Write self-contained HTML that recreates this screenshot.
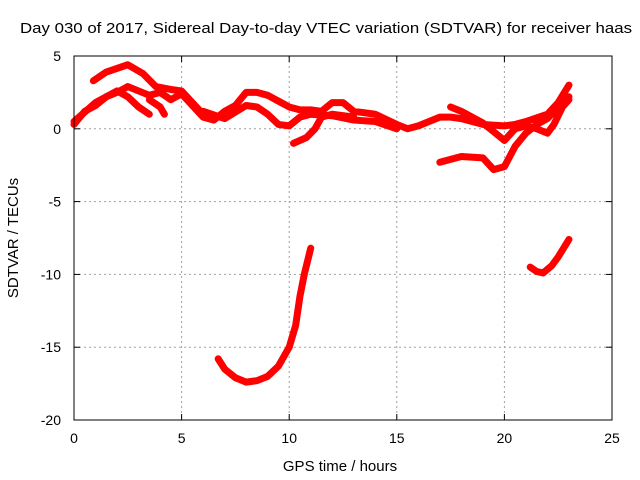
<!DOCTYPE html>
<html><head><meta charset="utf-8"><style>
body{margin:0;background:#fff}
svg{display:block;font-family:"Liberation Sans",sans-serif;font-size:14px}
</style></head><body>
<svg id="chart" width="640" height="480">
<text x="20" y="33" textLength="612" lengthAdjust="spacingAndGlyphs" font-size="15">Day 030 of 2017, Sidereal Day-to-day VTEC variation (SDTVAR) for receiver haas</text>
<text x="340" y="471" text-anchor="middle" font-size="15">GPS time / hours</text>
<text transform="translate(18,238) rotate(-90)" text-anchor="middle" font-size="15">SDTVAR / TECUs</text>
<g id="grid"></g><g id="ticks"></g><g id="series"></g>
<rect x="74" y="56" width="538" height="364" fill="none" stroke="#000" stroke-width="1"/>
</svg>
<script>
const xTicks=[0,5,10,15,20,25];
const yTicks=[5,0,-5,-10,-15,-20];
const s1=[[0.9,3.3],[1.5,3.9],[2.5,4.4],[3.2,3.8],[3.8,2.9],[4.5,2.7],[5,2.6],[5.5,1.8],[6,1.0]];
const s2=[[0,0.3],[0.5,1.2],[1,1.6],[1.5,2.2],[2,2.5],[2.5,2.9],[3,2.6],[3.5,2.3],[4,2.5],[4.5,2.0],[5,2.4],[5.5,1.6],[6,0.8],[6.5,0.6],[7,1.2],[7.5,1.6],[8,2.5],[8.5,2.5],[9,2.3],[9.5,1.9],[10,1.5],[10.5,1.3],[11,1.3],[11.5,1.2],[12,1.8],[12.5,1.8],[13,1.2],[14,1.0],[15,0.3],[15.5,0.0],[16,0.2],[16.5,0.5],[17,0.8],[17.5,0.8],[18,0.7],[19,0.3],[20,0.2],[20.5,0.3],[21,0.5],[22,1.0],[22.5,1.8],[23,3.0]];
const s3=[[0,0.5],[1,1.8],[2,2.6],[2.5,2.2],[3,1.5],[3.5,1.0]];
const s4=[[3.5,2.0],[4,1.5],[4.2,1.0]];
const s5=[[6,1.2],[7,0.7],[8,1.6],[8.5,1.5],[9,1.0],[9.5,0.3],[10,0.2],[10.5,0.8],[11,1.0],[12,0.9],[13,0.6],[14,0.5],[15,0.0]];
const s6=[[10.2,-1.0],[10.8,-0.6],[11.2,0],[11.5,0.8],[12,1.0],[13,0.8]];
const s7=[[17,-2.3],[18,-1.9],[19,-2.0],[19.5,-2.8],[20,-2.6],[20.5,-1.2],[21,-0.3],[21.5,0.3],[22,0.7],[22.5,1.5],[23,2.2]];
const s8=[[17.5,1.5],[18,1.2],[19,0.4],[19.5,-0.2],[20,-0.8],[20.5,0.0],[21,0.2],[21.5,0.0],[22,-0.3],[22.3,0.3],[22.7,1.5],[23,2.0]];
const s9=[[6.7,-15.8],[7,-16.5],[7.5,-17.1],[8,-17.4],[8.5,-17.3],[9,-17.0],[9.5,-16.3],[10,-15.0],[10.3,-13.5],[10.5,-11.5],[10.7,-10.0],[11,-8.2]];
const s10=[[21.2,-9.5],[21.5,-9.8],[21.8,-9.9],[22.2,-9.4],[22.5,-8.8],[23,-7.6]];
const allSeries=[s1,s2,s3,s4,s5,s6,s7,s8,s9,s10];
const NS="http://www.w3.org/2000/svg";
function X(h){return 74+h*(538/25);}
function Y(v){return 56+(5-v)*(364/25);}
function mk(t,a,p){const e=document.createElementNS(NS,t);for(const k in a)e.setAttribute(k,a[k]);p.appendChild(e);return e;}
const grid=document.getElementById('grid'),ticks=document.getElementById('ticks'),ser=document.getElementById('series');
xTicks.forEach(t=>{
 if(t>0&&t<25){const l=mk('line',{x1:X(t),x2:X(t),y1:56,y2:420,stroke:'#a0a0a0','stroke-dasharray':'2,3'},grid);
 
 }
 mk('line',{x1:X(t),x2:X(t),y1:420,y2:414,stroke:'#000'},ticks);
 mk('line',{x1:X(t),x2:X(t),y1:56,y2:62,stroke:'#000'},ticks);
 const tx=mk('text',{x:X(t),y:443,'text-anchor':'middle'},ticks);tx.textContent=t;
 
 
});
yTicks.forEach(t=>{
 if(t>-20&&t<5){const l=mk('line',{x1:74,x2:612,y1:Y(t),y2:Y(t),stroke:'#a0a0a0','stroke-dasharray':'2,3'},grid);
 
 }
 mk('line',{x1:74,x2:80,y1:Y(t),y2:Y(t),stroke:'#000'},ticks);
 mk('line',{x1:612,x2:606,y1:Y(t),y2:Y(t),stroke:'#000'},ticks);
 const tx=mk('text',{x:61,y:Y(t)+5,'text-anchor':'end'},ticks);tx.textContent=t;
 
 
});
allSeries.forEach((s,i)=>{
 const p=mk('polyline',{points:s.map(d=>X(d[0])+','+Y(d[1])).join(' '),fill:'none',stroke:'#ff0000','stroke-width':7,'stroke-linejoin':'round','stroke-linecap':'round'},ser);
 
 
});
</script>
</body></html>
